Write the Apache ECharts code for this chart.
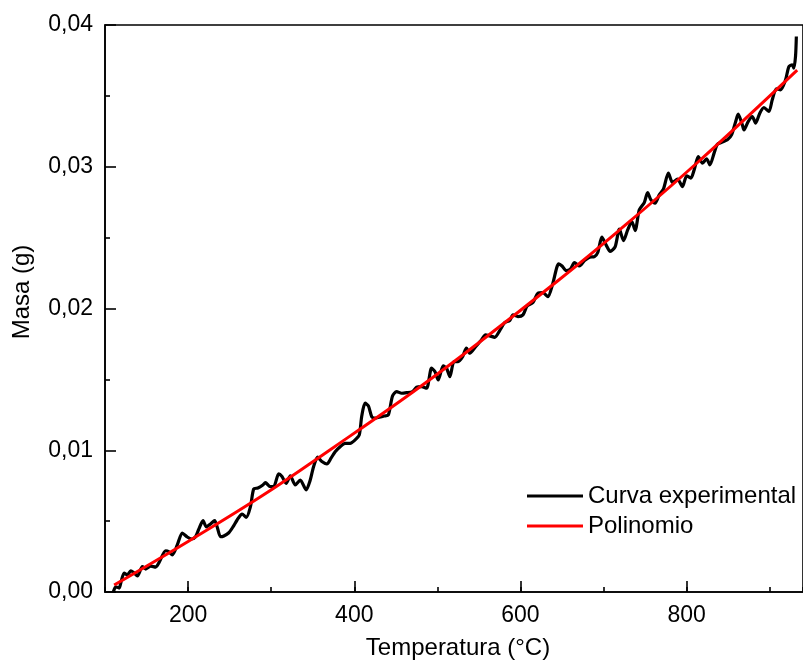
<!DOCTYPE html>
<html>
<head>
<meta charset="utf-8">
<script src="https://cdn.jsdelivr.net/npm/echarts@6/dist/echarts.min.js"></script>
<style>
html,body{margin:0;padding:0;background:#fff;}
#chart{width:803px;height:667px;}
</style>
</head>
<body>
<div id="chart"></div>
<script>
// Experimental curve (Temperature °C, mass g)
var expTemperature = [110,113,117,119,123,127,131,135,139,145,149,155,161,165,173,177,181,187,193,199,204,209,213,218,222,227,232,235,239,243,249,254,259,265,270,275,279,284,290,293,299,303,309,313,318,323,329,335,342,347,351,356,361,367,372,377,383,389,395,401,406,409,413,417,421,425,430,436,441,446,451,457,463,470,475,481,487,493,497,501,507,511,515,520,525,530,535,539,546,553,558,563,569,575,581,587,591,597,603,608,615,621,627,633,639,646,650,655,660,665,671,677,683,689,693,698,703,708,714,719,724,729,734,738,743,749,753,757,762,767,772,778,783,789,795,800,805,809,814,819,824,828,833,837,843,849,854,859,862,867,869,874,879,883,888,893,899,903,908,913,919,923,927,929,931,932];
var expMass = [0,.00037,.00028,.00064,.00134,.0012,.0015,.00134,.00113,.00179,.00162,.00183,.00176,.00207,.00291,.00284,.00261,.00332,.00416,.00388,.00374,.0039,.00445,.00503,.00459,.0048,.00503,.00459,.0039,.00395,.00418,.00459,.00508,.0055,.00527,.00602,.00727,.00734,.00755,.00771,.00743,.00743,.00833,.00814,.00767,.00819,.00755,.0079,.0072,.0079,.00884,.00951,.0092,.00903,.00944,.0099,.01025,.01049,.01049,.01073,.01108,.01242,.01332,.01313,.01237,.01226,.01233,.01242,.01249,.01383,.01414,.01402,.01406,.01414,.01445,.01449,.01438,.01579,.01555,.01496,.01595,.01579,.01519,.01625,.01625,.01656,.0172,.01685,.01731,.01778,.01814,.01807,.01797,.01844,.019,.01915,.01955,.01943,.01955,.02018,.02042,.02108,.02112,.02084,.02179,.02315,.023,.02267,.02277,.02324,.023,.02338,.02362,.02366,.02395,.02503,.02449,.02402,.02437,.0256,.02479,.02555,.02613,.0255,.02696,.02747,.02818,.02766,.02743,.02802,.02842,.02955,.02889,.02912,.0286,.02936,.0292,.02978,.03072,.03025,.03056,.03013,.03096,.03159,.03174,.0319,.03225,.03319,.03371,.03296,.0326,.03319,.03354,.03308,.03378,.03418,.0339,.03472,.0355,.03543,.03613,.03707,.03719,.03696,.03778,.03919];
// Polynomial fit curve
var polyTemperature = [111,201,290,375,471,549,645,717,813,933];
var polyMass = [0.00049,0.00360,0.00682,0.01020,0.01413,0.01755,0.02196,0.02543,0.03030,0.03682];
// Labels
var seriesNames = ['Curva experimental','Polinomio'];
var xTitle = 'Temperatura (°C)';
var yTitle = 'Masa (g)';

function pairs(xs, ys){ return xs.map(function(x,i){ return [x, ys[i]]; }); }

var FONT = "'Liberation Sans', Arial, sans-serif";
var chart = echarts.init(document.getElementById('chart'), null, {renderer:'canvas'});
chart.setOption({
  animation:false,
  backgroundColor:'#fff',
  grid:{left:105,right:-3,top:25,bottom:75,show:true,borderColor:'#000',borderWidth:1.6,backgroundColor:'transparent'},
  legend:{
    orient:'vertical', left:527, top:481, padding:0, itemGap:0,
    itemWidth:56, itemHeight:3, icon:'rect',
    textStyle:{fontFamily:FONT,fontSize:24,color:'#000',lineHeight:30},
    data:seriesNames
  },
  xAxis:[{
    type:'value', min:100, max:940, splitNumber:5,
    name:xTitle, nameLocation:'middle', nameGap:44,
    nameTextStyle:{fontFamily:FONT,fontSize:24,color:'#000',padding:[0,0,0,8]},
    axisLine:{show:true,lineStyle:{color:'#000',width:1.6}},
    axisTick:{show:true,inside:true,length:11,lineStyle:{color:'#000',width:1.6}},
    axisLabel:{fontFamily:FONT,fontSize:23,color:'#000',margin:12,showMinLabel:false,showMaxLabel:false},
    splitLine:{show:false}
  },{
    type:'value', min:100, max:940, interval:100, position:'bottom',
    axisLine:{show:false},
    axisTick:{show:true,inside:true,length:5,lineStyle:{color:'#000',width:1.6}},
    axisLabel:{show:false}, splitLine:{show:false}
  }],
  yAxis:{
    type:'value', min:0, max:0.04, interval:0.01,
    axisLine:{show:true,lineStyle:{color:'#000',width:1.6}},
    axisTick:{show:true,inside:true,length:11,lineStyle:{color:'#000',width:1.6}},
    minorTick:{show:true,splitNumber:2,length:5,lineStyle:{color:'#000',width:1.6}},
    axisLabel:{fontFamily:FONT,fontSize:23,color:'#000',margin:12,
      formatter:function(v){ return v.toFixed(2).replace('.', ','); }},
    splitLine:{show:false}
  },
  graphic:[{
    type:'text', x:22, y:292, rotation:Math.PI/2,
    style:{text:yTitle, font:'24px '+FONT, fill:'#000', align:'center', verticalAlign:'middle'}
  }],
  series:[{
    name:seriesNames[0], type:'line', xAxisIndex:0, data:pairs(expTemperature, expMass),
    showSymbol:false, smooth:0.25, color:'#000',
    lineStyle:{color:'#000',width:3.2}
  },{
    name:seriesNames[1], type:'line', xAxisIndex:0, data:pairs(polyTemperature, polyMass),
    showSymbol:false, smooth:0.4, color:'#ff0000',
    lineStyle:{color:'#ff0000',width:3}
  }]
});
</script>
</body>
</html>
